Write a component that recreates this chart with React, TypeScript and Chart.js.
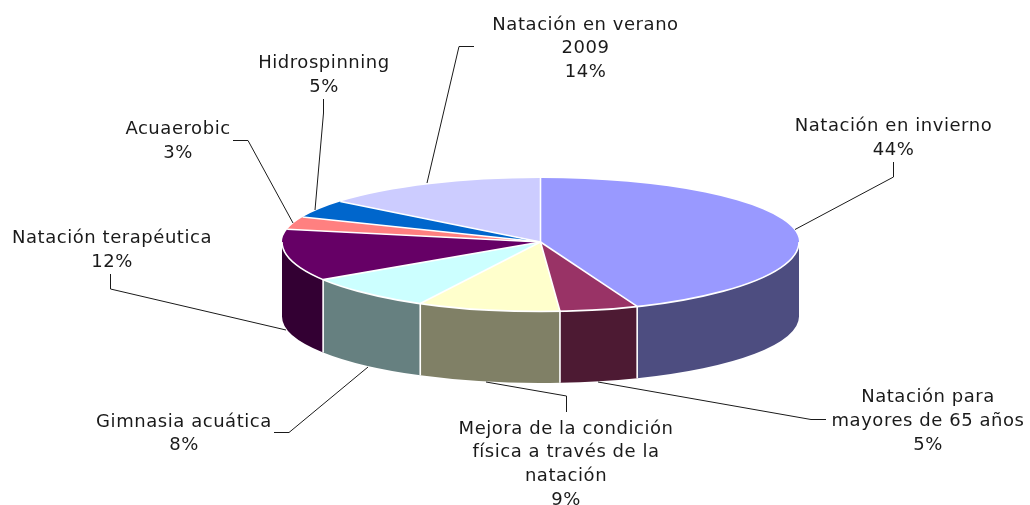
import React, { useEffect, useRef } from "react";
import { Chart, registerables } from "chart.js";

Chart.register(...registerables);

const categories = [
  "Natación en invierno",
  "Natación para mayores de 65 años",
  "Mejora de la condición física a través de la natación",
  "Gimnasia acuática",
  "Natación terapéutica",
  "Acuaerobic",
  "Hidrospinning",
  "Natación en verano 2009",
];
const values = [43.9, 4.9, 8.9, 8.2, 12.3, 3.2, 4.5, 14.1];
const topColors = ["#9999FF", "#993366", "#FFFFCC", "#CCFFFF", "#660066", "#FF8080", "#0066CC", "#CCCCFF"];
const sideColors = ["#4D4D80", "#4D1A33", "#808066", "#668080", "#330033", "#804040", "#003366", "#666680"];

const labelLines = [
  ["Natación en invierno"],
  ["Natación para", "mayores de 65 años"],
  ["Mejora de la condición", "física a través de la", "natación"],
  ["Gimnasia acuática"],
  ["Natación terapéutica"],
  ["Acuaerobic"],
  ["Hidrospinning"],
  ["Natación en verano", "2009"],
];

const labelAnchors = [
  [893.5, 126.5],
  [928, 397.5],
  [566, 429],
  [184, 422],
  [112, 238.5],
  [178, 129.5],
  [324, 63.5],
  [585.5, 25],
];
const leaders = [
  [[795, 229.5], [893.5, 177], [893.5, 162]],
  [[598, 382], [811, 419.5], [826, 419.5]],
  [[486, 382], [566.5, 396], [566.5, 412]],
  [[368, 367], [289, 432.5], [274, 432.5]],
  [[286, 330], [110.5, 289], [110.5, 274]],
  [[293, 223], [248, 140.5], [233, 140.5]],
  [[315, 210], [323.5, 113], [323.5, 99]],
  [[427, 183], [459, 46.5], [474, 46.5]],
];

const RADIUS = 258.5;
const UP_RY = 64;
const DOWN_RY = 69.5;
const FLOOR_Y = 316.5;
const FLOOR_RY = 66.5;
const FONT = '18px "DejaVu Sans"';
const LETTER_SPACING = "0.55px";
const LINE_H = 23.7;

const pie3d = {
  id: "pie3d",
  beforeDatasetsDraw(chart: any) {
    const ctx = chart.ctx;
    const meta = chart.getDatasetMeta(0);
    const arcs = meta.data as any[];
    const cx = arcs[0].x;
    const cy = arcs[0].y;
    const r = arcs[0].outerRadius;

    // side wall
    arcs.forEach((a, i) => {
      const s = Math.max(a.startAngle, 0);
      const e = Math.min(a.endAngle, Math.PI);
      if (e <= s) return;
      ctx.save();
      ctx.beginPath();
      ctx.ellipse(cx, cy, r, DOWN_RY, 0, s, e);
      ctx.ellipse(cx, FLOOR_Y, r, FLOOR_RY, 0, e, s, true);
      ctx.closePath();
      ctx.fillStyle = sideColors[i];
      ctx.fill();
      ctx.restore();
    });

    // top face: upper and lower halves squashed by different factors
    ctx.save();
    ctx.beginPath();
    ctx.rect(0, 0, chart.width, cy + 1);
    ctx.clip();
    ctx.translate(0, cy);
    ctx.scale(1, UP_RY / r);
    ctx.translate(0, -cy);
    meta.controller.draw();
    ctx.restore();

    ctx.save();
    ctx.beginPath();
    ctx.rect(0, cy, chart.width, chart.height - cy);
    ctx.clip();
    ctx.translate(0, cy);
    ctx.scale(1, DOWN_RY / r);
    ctx.translate(0, -cy);
    meta.controller.draw();
    ctx.restore();

    // white separators
    ctx.save();
    ctx.strokeStyle = "#FFFFFF";
    ctx.lineWidth = 1.6;
    arcs.forEach((a) => {
      const ang = a.startAngle;
      const sin = Math.sin(ang);
      const ry = sin > 0 ? DOWN_RY : UP_RY;
      const px = cx + r * Math.cos(ang);
      const py = cy + ry * sin;
      ctx.beginPath();
      ctx.moveTo(cx, cy);
      ctx.lineTo(px, py);
      ctx.stroke();
      if (sin > 0) {
        ctx.beginPath();
        ctx.moveTo(px, py);
        ctx.lineTo(px, FLOOR_Y + FLOOR_RY * sin);
        ctx.stroke();
      }
    });
    ctx.beginPath();
    ctx.ellipse(cx, cy, r, DOWN_RY, 0, 0, Math.PI);
    ctx.stroke();
    ctx.restore();
    return false;
  },
  afterDraw(chart: any) {
    const ctx = chart.ctx;
    ctx.save();
    ctx.strokeStyle = "#1a1a1a";
    ctx.lineWidth = 1;
    leaders.forEach((pts) => {
      ctx.beginPath();
      pts.forEach(([x, y], k) => (k ? ctx.lineTo(x, y) : ctx.moveTo(x, y)));
      ctx.stroke();
    });
    ctx.fillStyle = "#1a1a1a";
    ctx.font = FONT;
    (ctx as any).letterSpacing = LETTER_SPACING;
    ctx.textAlign = "center";
    ctx.textBaseline = "middle";
    labelLines.forEach((lines, i) => {
      const all = [...lines, Math.round(values[i]) + "%"];
      const [x, y] = labelAnchors[i];
      all.forEach((t, k) => ctx.fillText(t, x, y + k * LINE_H));
    });
    ctx.restore();
  },
};

export default function App() {
  const ref = useRef<HTMLCanvasElement>(null);
  useEffect(() => {
    const chart = new Chart(ref.current!, {
      type: "pie",
      data: {
        labels: categories,
        datasets: [
          {
            data: values,
            backgroundColor: topColors,
            borderWidth: 0,
            clip: false,
          } as any,
        ],
      },
      options: {
        animation: false,
        responsive: false,
        radius: RADIUS,
        layout: { padding: { left: 51, bottom: 21 } },
        plugins: { legend: { display: false }, tooltip: { enabled: false } },
      } as any,
      plugins: [pie3d],
    });
    return () => chart.destroy();
  }, []);
  return (
    <canvas
      ref={ref}
      width={1030}
      height={505}
      style={{ position: "absolute", left: 0, top: 0, display: "block" }}
    />
  );
}
